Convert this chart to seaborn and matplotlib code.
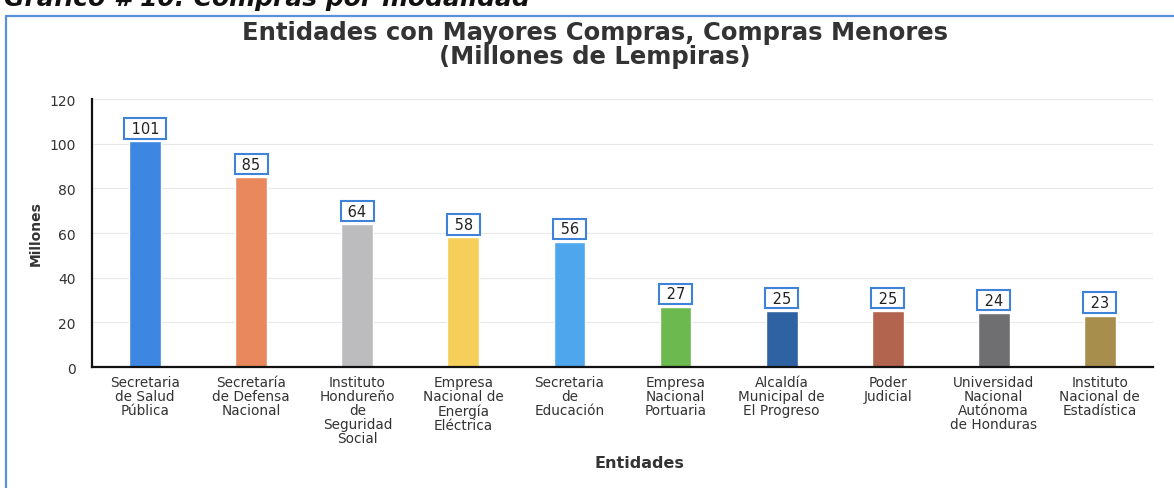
import matplotlib
matplotlib.use("Agg")
import matplotlib.pyplot as plt
import seaborn as sns
import pandas as pd
from matplotlib.lines import Line2D

# datos del grafico
entidades = [
    "Secretaria\nde Salud\nPública",
    "Secretaría\nde Defensa\nNacional",
    "Instituto\nHondureño\nde\nSeguridad\nSocial",
    "Empresa\nNacional de\nEnergía\nEléctrica",
    "Secretaria\nde\nEducación",
    "Empresa\nNacional\nPortuaria",
    "Alcaldía\nMunicipal de\nEl Progreso",
    "Poder\nJudicial",
    "Universidad\nNacional\nAutónoma\nde Honduras",
    "Instituto\nNacional de\nEstadística",
]
millones = [101, 85, 64, 58, 56, 27, 25, 25, 24, 23]
colores = ["#3d86e2", "#e8885c", "#bcbcbe", "#f6cf5a", "#4ea6ec",
           "#6cb94f", "#2f62a3", "#b3644f", "#6f6f71", "#a88e4c"]
y_ticks = [0, 20, 40, 60, 80, 100, 120]

sns.set_theme(style="white")
# la imagen original esta estirada a lo ancho, DejaVu es la fuente mas ancha
plt.rcParams['font.family'] = ['DejaVu Sans']

df = pd.DataFrame({"Entidad": entidades, "Millones": millones})

fig = plt.figure(figsize=(11.74, 4.89), dpi=100)
ax = fig.add_axes([0.0785, 0.2474, 0.9035, 0.5481])

sns.barplot(data=df, x="Entidad", y="Millones", hue="Entidad",
            palette=colores, width=0.3, legend=False, ax=ax, saturation=1)

ax.set_ylim(0, 120)
ax.set_xlim(-0.5, len(entidades) - 0.5)
ax.set_yticks(y_ticks)
ax.yaxis.grid(True, color="#e8e8e8", linewidth=0.8)
ax.set_axisbelow(True)
for s in ["top", "right"]:
    ax.spines[s].set_visible(False)
for s in ["left", "bottom"]:
    ax.spines[s].set_color("#111111")
    ax.spines[s].set_linewidth(1.6)

ax.tick_params(axis="y", length=0, pad=12, labelsize=10, labelcolor="#333333")
ax.tick_params(axis="x", length=0, pad=6, labelsize=9.8, labelcolor="#333333")
for lbl in ax.get_xticklabels():
    lbl.set_linespacing(1.0)
    lbl.set_verticalalignment("top")

# etiquetas con recuadro
for i, v in enumerate(millones):
    ax.annotate(" " + str(v) + " ", (i, v), xytext=(0, 4), textcoords="offset points",
                ha="center", va="bottom", fontsize=10.5, color="#222222",
                bbox=dict(boxstyle="square,pad=0.18", fc="white",
                          ec="#3f83d8", lw=1.5))

ax.set_ylabel("Millones", fontsize=10, fontweight="bold", color="#333333")
ax.yaxis.set_label_coords(-0.047, 0.5)
ax.set_xlabel("Entidades", fontsize=11.5, fontweight="bold", color="#333333")
ax.xaxis.set_label_coords(0.516, -0.33)

fig.text(0.507, 0.907, "Entidades con Mayores Compras, Compras Menores\n(Millones de Lempiras)",
         ha="center", va="center", fontsize=17.5, fontweight="bold",
         color="#333333", linespacing=1.0)

# encabezado cortado del documento
fig.text(0.003, 1.003, "Gráfico # 10: Compras por modalidad", ha="left", va="center",
         fontsize=18, fontweight="bold", fontstyle="italic", color="#111111")

# marco azul (solo arriba e izquierda se ven)
fig.add_artist(Line2D([0.005, 1.0], [0.966, 0.966], transform=fig.transFigure,
                      color="#5b8fd6", lw=1.6))
fig.add_artist(Line2D([0.005, 0.005], [0.0, 0.966], transform=fig.transFigure,
                      color="#5b8fd6", lw=1.6))

fig.savefig("out.png", dpi=100)
